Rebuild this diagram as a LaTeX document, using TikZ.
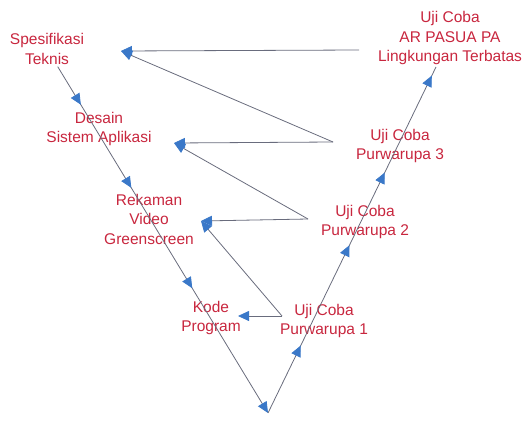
\documentclass[tikz,border=0pt]{standalone}
\usepackage{fontspec}
\setmainfont{Liberation Sans}
\usepackage{tikz}
\usetikzlibrary{arrows.meta,decorations.markings}
\usepackage{xcolor}
\definecolor{txtred}{RGB}{200,38,62}
\definecolor{linegray}{RGB}{105,108,125}
\definecolor{headblue}{RGB}{58,120,200}
\tikzset{
	stage/.style={text=txtred,align=center,inner sep=2pt,font=\fontsize{15.5}{19.5}\selectfont},
	vline/.style={draw=linegray,line width=0.8pt},
	fb/.style={draw=linegray,line width=0.8pt,-{Triangle[length=11pt,width=10pt,color=headblue]}},
	>={Triangle[length=11pt,width=10pt,color=headblue]}
}

\begin{document}
\begin{tikzpicture}[x=1pt,y=-1pt]
		\useasboundingbox (0,0) rectangle (524,420);
		\begin{scope}
			% left leg
			\node[stage] (spec) at (47,49) {Spesifikasi\\Teknis};
			\node[stage] (desain) at (99,129) {Desain\\Sistem Aplikasi};
			\node[stage] (rekam) at (149,219) {Rekaman\\Video\\Greenscreen};
			\node[stage] (kode) at (211,318) {Kode\\Program};
			\coordinate (bottom) at (268,413);
			% right leg
			\node[stage] (uji1) at (324,321) {Uji Coba\\Purwarupa 1};
			\node[stage] (uji2) at (365,222) {Uji Coba\\Purwarupa 2};
			\node[stage] (uji3) at (400,146) {Uji Coba\\Purwarupa 3};
			\node[stage] (ujiar) at (450,38) {Uji Coba\\AR PASUA PA\\Lingkungan Terbatas};
			% feedback ends
			\coordinate (tOut) at (359,50);
			\coordinate (a3) at (333,142);
			\coordinate (a2) at (308,219);
			\coordinate (a1) at (282,316);
			\coordinate (specIn) at (121,51);
			\coordinate (desIn) at (174,143);
			\coordinate (grnIn) at (201,221);
			\coordinate (kodIn) at (238,316);
			\draw[vline,-{>},postaction={decorate},
				decoration={markings,
					mark=at position 0.11 with {\arrow{>}},
					mark=at position 0.35 with {\arrow{>}},
					mark=at position 0.64 with {\arrow{>}}}]
				(spec) -- (bottom);
			\draw[vline,postaction={decorate},
				decoration={markings,
					mark=at position 0.195 with {\arrow{>}},
					mark=at position 0.485 with {\arrow{>}},
					mark=at position 0.695 with {\arrow{>}},
					mark=at position 0.975 with {\arrow{>}}}]
				(bottom) -- (ujiar);
			\foreach \Src/\Dst in {tOut/specIn,a3/specIn,a3/desIn,a2/desIn,a2/grnIn,a1/grnIn,a1/kodIn}
			\draw[fb] (\Src) -- (\Dst);
		\end{scope}
	\end{tikzpicture}
\end{document}
